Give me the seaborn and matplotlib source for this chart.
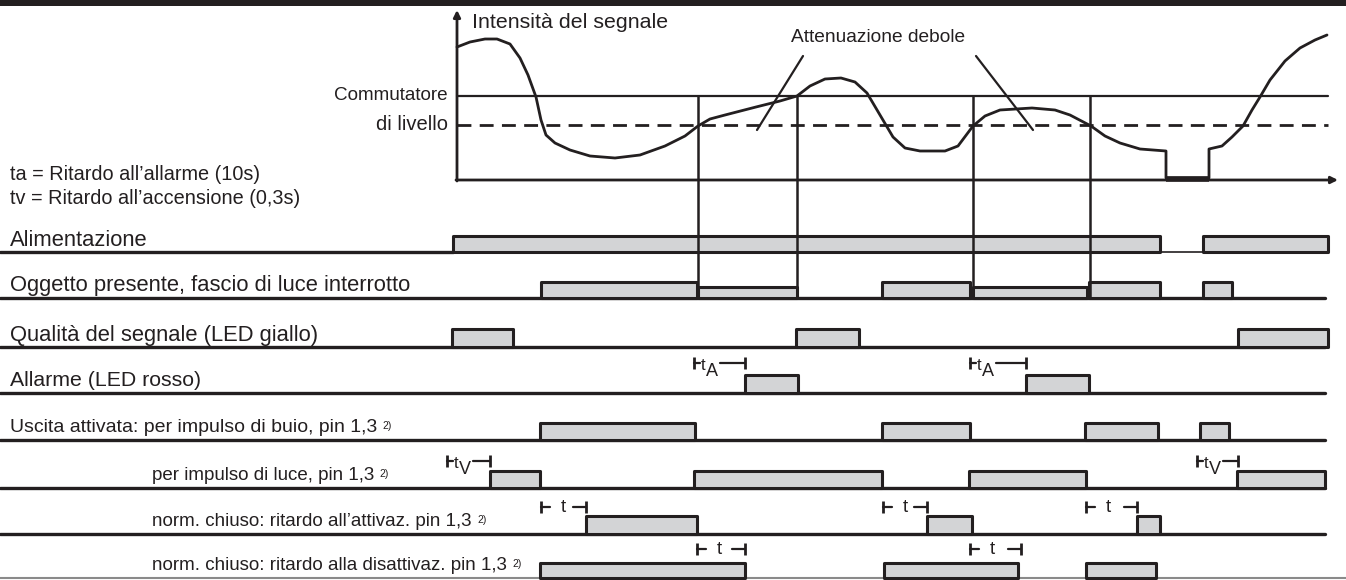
import numpy as np
import pandas as pd
import seaborn as sns
import matplotlib.pyplot as plt

# signal curve (x = time, y = screen height, top = 0)
signal_x = [457, 470, 485, 497, 510, 520, 528, 536, 541, 546, 555, 570, 590, 615, 640, 665,
            685, 698, 710, 725, 756, 780, 797, 810, 825, 841, 855, 867, 880, 893, 905, 920,
            945, 958, 973, 985, 1000, 1032, 1055, 1070, 1091, 1105, 1120, 1140, 1166, 1166,
            1209, 1209, 1222, 1232, 1243, 1252, 1260, 1270, 1285, 1300, 1315, 1327]
signal_y = [47, 42, 39, 39, 44, 58, 75, 97, 120, 135, 143, 150, 156, 158, 155, 146,
            136, 126, 119, 115, 107, 101, 96, 86, 79, 78, 82, 93, 115, 137, 148, 151,
            151, 146, 126, 116, 110, 108, 110, 115, 126, 136, 143, 149, 151, 178,
            178, 149, 146, 137, 126, 110, 97, 80, 61, 48, 40, 35]
switch_level = 96
dashed_level = 125
axis_x0, axis_x1 = 457, 1338
axis_y = 180
marker_times = [698, 797, 973, 1090]

row_labels = ["Alimentazione",
              "Oggetto presente, fascio di luce interrotto",
              "Qualità del segnale (LED giallo)",
              "Allarme (LED rosso)",
              "Uscita attivata: per impulso di buio, pin 1,3",
              "per impulso di luce, pin 1,3",
              "norm. chiuso: ritardo all’attivaz. pin 1,3",
              "norm. chiuso: ritardo alla disattivaz. pin 1,3"]
row_base = [252, 298, 347, 393, 440, 488, 534, 578]
row_height = [16, 16, 18, 18, 17, 17, 18, 15]
row_bars = [
    [(453, 1160), (1203, 1328)],
    [(541, 697), (882, 970), (1089, 1160), (1203, 1232)],
    [(452, 513), (796, 859), (1238, 1328)],
    [(745, 798), (1026, 1089)],
    [(540, 695), (882, 970), (1085, 1158), (1200, 1229)],
    [(490, 540), (694, 882), (969, 1086), (1237, 1325)],
    [(586, 697), (927, 972), (1137, 1160)],
    [(540, 745), (884, 1018), (1086, 1156)],
]
low_bars = [(698, 797), (973, 1087)]   # lower blocks in row 2
low_height = 11

# time spans: (start, end, row y, letter, subscript)
spans = [(694, 745, 363, "t", "A"), (970, 1026, 363, "t", "A"),
         (447, 490, 461, "t", "V"), (1197, 1238, 461, "t", "V"),
         (541, 586, 507, "t", ""), (883, 927, 507, "t", ""), (1086, 1137, 507, "t", ""),
         (697, 745, 549, "t", ""), (970, 1021, 549, "t", "")]

sns.set_theme(style="white")
plt.rcParams['font.family'] = ['Liberation Sans', 'DejaVu Sans']
ink = '#231f20'
fill = '#d3d4d6'

fig = plt.figure(figsize=(13.46, 5.80), dpi=100)
ax = fig.add_axes([0, 0, 1, 1])
ax.set_xlim(0, 1346)
ax.set_ylim(580, 0)
ax.axis('off')

ax.axhspan(0, 6, color=ink, lw=0)

# signal diagram
df = pd.DataFrame({'t': signal_x, 'v': signal_y})
sns.lineplot(data=df, x='t', y='v', sort=False, estimator=None, ax=ax, color=ink, lw=2)
ax.plot([1166, 1209], [axis_y - 1, axis_y - 1], color=ink, lw=4, solid_capstyle='butt')
ax.annotate('', xy=(axis_x0, 10), xytext=(axis_x0, axis_y + 1),
            arrowprops=dict(arrowstyle='-|>', color=ink, lw=2, mutation_scale=10, shrinkA=0, shrinkB=0))
ax.annotate('', xy=(axis_x1, axis_y), xytext=(axis_x0 - 1, axis_y),
            arrowprops=dict(arrowstyle='-|>', color=ink, lw=2, mutation_scale=10, shrinkA=0, shrinkB=0))
ax.plot([axis_x0, 1328], [switch_level] * 2, color=ink, lw=1.6)
ax.plot([axis_x0, 1328], [dashed_level] * 2, color=ink, lw=2, linestyle=(0, (5, 3)))
ax.vlines(marker_times, switch_level, row_base[1], color=ink, lw=1.8, zorder=5)

ax.text(472, 22, "Intensità del segnale", fontsize=15.4, va='center', ha='left', color=ink)
ax.text(878, 38, "Attenuazione debole", fontsize=13.8, va='center', ha='center', color=ink)
ax.text(448, 96, "Commutatore", fontsize=13.6, va='center', ha='right', color=ink)
ax.text(448, 125, "di livello", fontsize=14.5, va='center', ha='right', color=ink)
ax.plot([803, 757], [56, 130], color=ink, lw=1.6)
ax.plot([976, 1033], [56, 130], color=ink, lw=1.6)
ax.text(10, 175, "ta = Ritardo all’allarme (10s)", fontsize=14.3, va='center', color=ink)
ax.text(10, 198, "tv = Ritardo all’accensione (0,3s)", fontsize=14.3, va='center', color=ink)

# rows of pulses
label_x = [10, 10, 10, 10, 10, 152, 152, 152]
label_fs = [15.8, 15.8, 15.8, 15.3, 14, 13.5, 13.5, 13.5]
for i, lab in enumerate(row_labels):
    base = row_base[i]
    if i == 0:
        ax.plot([0, 453], [base, base], color=ink, lw=2.4)
        ax.plot([1160, 1203], [base, base], color=ink, lw=1.2)
    elif i == len(row_labels) - 1:
        ax.plot([0, 1346], [base, base], color='#8a8a8a', lw=1.5)
    else:
        ax.plot([0, 1325], [base, base], color=ink, lw=2.4)
    xr = [(a, b - a) for a, b in row_bars[i]]
    ax.broken_barh(xr, (base - row_height[i], row_height[i]), facecolors=fill,
                   edgecolors=ink, linewidth=2.2, zorder=3)
    t = ax.text(label_x[i], base - 12, lab, fontsize=label_fs[i], va='center', color=ink)
    if i >= 4:
        ax.annotate("2)", xy=(1, 1), xycoords=t, xytext=(4, -1), textcoords='offset points',
                    fontsize=7.5, va='top', ha='left', color=ink)

xr = [(a, b - a) for a, b in low_bars]
ax.broken_barh(xr, (row_base[1] - low_height, low_height), facecolors=fill,
               edgecolors=ink, linewidth=2.2, zorder=3)

# time span markers
for x0, x1, y, letter, sub in spans:
    ax.vlines([x0, x1], y - 6, y + 6, color=ink, lw=2)
    if sub:
        ax.plot([x0, x0 + 6], [y, y], color=ink, lw=1.6)
        ax.plot([x0 + 26, x1], [y, y], color=ink, lw=1.6)
        ax.text(x0 + 7, y + 2, letter, fontsize=12, va='center', ha='left', color=ink)
        ax.text(x0 + 12, y + 9, sub, fontsize=13, va='center', ha='left', color=ink)
    else:
        ax.plot([x0, x0 + 9], [y, y], color=ink, lw=1.6)
        ax.plot([x1 - 13, x1], [y, y], color=ink, lw=1.6)
        ax.text(x0 + 22, y, letter, fontsize=13.5, va='center', ha='center', color=ink)

fig.savefig('out.png', dpi=100)
print('finish!')
